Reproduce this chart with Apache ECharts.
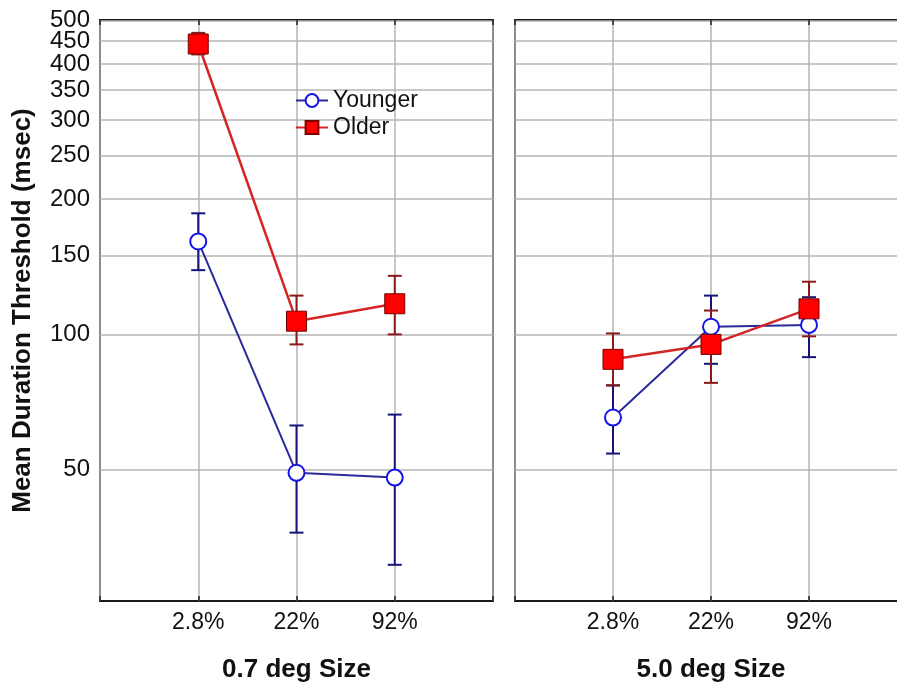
<!DOCTYPE html>
<html>
<head>
<meta charset="utf-8">
<script src="https://cdn.jsdelivr.net/npm/echarts@6/dist/echarts.min.js"></script>
<style>
  html, body { margin: 0; padding: 0; background: #fff; }
  #chart { width: 897px; height: 685px; }
</style>
</head>
<body>
<div id="chart"></div>
<script>
// contrast levels on x, one panel per stimulus size
const levels = ['2.8%', '22%', '92%'];
const panels = ['0.7 deg Size', '5.0 deg Size'];
const yTicks = [50, 100, 150, 200, 250, 300, 350, 400, 450, 500];

// [panel][level]  mean and error bar ends (msec)
const youngerMean = [[161, 49.2, 48], [65.3, 104, 105]];
const youngerLow  = [[139, 36.2, 30.7], [54.3, 86, 89]];
const youngerHigh = [[186, 62.7, 66.3], [77, 122, 121]];
const olderMean   = [[443, 107, 117], [88, 95, 114]];
const olderLow    = [[420, 95, 100], [77, 78, 99]];
const olderHigh   = [[469, 122, 135], [100.5, 113, 131]];

const FONT = 'Liberation Sans, Arial, sans-serif';
const slots = ['', ...levels, ''];   // empty slots at the panel edges
const Y_MIN = 25.5, Y_MAX = 501;

const chart = echarts.init(document.getElementById('chart'));

function errBar(params, api) {
  const x = api.value(0);
  const lo = api.coord([x, api.value(1)]);
  const hi = api.coord([x, api.value(2)]);
  const w = 7;
  const color = api.visual('color');
  const st = { stroke: color, lineWidth: 2 };
  return {
    type: 'group',
    children: [
      { type: 'line', shape: { x1: lo[0], y1: lo[1], x2: hi[0], y2: hi[1] }, style: st },
      { type: 'line', shape: { x1: lo[0] - w, y1: lo[1], x2: lo[0] + w, y2: lo[1] }, style: st },
      { type: 'line', shape: { x1: hi[0] - w, y1: hi[1], x2: hi[0] + w, y2: hi[1] }, style: st }
    ]
  };
}

const grids = [
  { left: 100, top: 20, width: 393, height: 581 },
  { left: 515, top: 20, width: 392, height: 581 }
];

const labelStyle = { fontFamily: FONT, fontSize: 24, color: '#111', margin: 10 };
// the two top labels sit very close; each gets its own axis so none is dropped
const crowded = yTicks.slice(-2);
const mainLabels = yTicks.slice(0, -2);

let xAxes = [], yAxes = [], series = [];

panels.forEach((title, p) => {
  xAxes.push({
    type: 'category', gridIndex: p, data: slots, boundaryGap: false,
    name: title, nameLocation: 'middle', nameGap: 56,
    nameTextStyle: { fontFamily: FONT, fontSize: 26, fontWeight: 'bold', color: '#111' },
    axisLine: { show: false },
    axisTick: { inside: true, length: 5, lineStyle: { color: '#222', width: 1.5 } },
    axisLabel: { fontFamily: FONT, fontSize: 23, color: '#111', margin: 10 },
    splitLine: { show: true, lineStyle: { color: '#b4b4b4', width: 1.5 } }
  });
  yAxes.push({
    type: 'log', logBase: 10, gridIndex: p, min: Y_MIN, max: Y_MAX, position: 'left',
    name: p === 0 ? 'Mean Duration Threshold (msec)' : '',
    nameLocation: 'middle', nameGap: 64,
    nameTextStyle: { fontFamily: FONT, fontSize: 26, fontWeight: 'bold', color: '#111' },
    axisLine: { show: false },
    axisTick: { inside: true, length: 5, customValues: yTicks, lineStyle: { color: '#222', width: 1.5 } },
    axisLabel: Object.assign({ show: p === 0, customValues: mainLabels }, labelStyle),
    splitLine: { show: true, lineStyle: { color: '#b4b4b4', width: 1.5 } }
  });
});

// top tick rows
panels.forEach((t, p) => {
  xAxes.push({
    type: 'category', gridIndex: p, data: slots, boundaryGap: false, position: 'top',
    axisLine: { show: false }, axisLabel: { show: false }, splitLine: { show: false },
    axisTick: { inside: true, length: 5, lineStyle: { color: '#222', width: 1.5 } }
  });
});
// evenly spaced ticks on the right edge of the left panel
yAxes.push({
  type: 'value', gridIndex: 0, position: 'right', min: 0, max: 12, interval: 1,
  axisLine: { show: false }, axisLabel: { show: false }, splitLine: { show: false },
  axisTick: { inside: true, length: 5, lineStyle: { color: '#222', width: 1.5 } }
});
crowded.forEach(v => {
  yAxes.push({
    type: 'log', logBase: 10, gridIndex: 0, min: Y_MIN, max: Y_MAX, position: 'left',
    axisLine: { show: false }, axisTick: { show: false }, splitLine: { show: false },
    axisLabel: Object.assign({ customValues: [v] }, labelStyle)
  });
});

panels.forEach((t, p) => {
  series.push({
    name: 'Younger SE', type: 'custom', xAxisIndex: p, yAxisIndex: p, z: 2,
    itemStyle: { color: '#14147a' },
    renderItem: errBar, encode: { x: 0, y: [1, 2] },
    data: levels.map((l, i) => [l, youngerLow[p][i], youngerHigh[p][i]])
  });
  series.push({
    name: 'Older SE', type: 'custom', xAxisIndex: p, yAxisIndex: p, z: 2,
    itemStyle: { color: '#8a1a1a' },
    renderItem: errBar, encode: { x: 0, y: [1, 2] },
    data: levels.map((l, i) => [l, olderLow[p][i], olderHigh[p][i]])
  });
  series.push({
    name: 'Younger', type: 'line', xAxisIndex: p, yAxisIndex: p, z: 3,
    symbol: 'emptyCircle', symbolSize: 16,
    itemStyle: { color: '#1414e6', borderWidth: 3 },
    lineStyle: { color: '#2a2a9c', width: 2 },
    data: levels.map((l, i) => [l, youngerMean[p][i]])
  });
  series.push({
    name: 'Older', type: 'line', xAxisIndex: p, yAxisIndex: p, z: 4,
    symbol: 'rect', symbolSize: 20,
    itemStyle: { color: '#ff0000', borderColor: '#7a0000', borderWidth: 1 },
    lineStyle: { color: '#d42424', width: 2.5 },
    data: levels.map((l, i) => [l, olderMean[p][i]])
  });
});

chart.setOption({
  animation: false,
  backgroundColor: '#fff',
  grid: grids.map(g => Object.assign({
    show: true, borderColor: '#1a1a1a', borderWidth: 2,
    backgroundColor: 'transparent', outerBoundsMode: 'none'
  }, g)),
  legend: {
    data: ['Younger', 'Older'], orient: 'vertical', left: 290, top: 84,
    itemWidth: 32, itemHeight: 16, itemGap: 4,
    textStyle: { fontFamily: FONT, fontSize: 23, color: '#111' }
  },
  xAxis: xAxes,
  yAxis: yAxes,
  series: series
});
</script>
</body>
</html>
